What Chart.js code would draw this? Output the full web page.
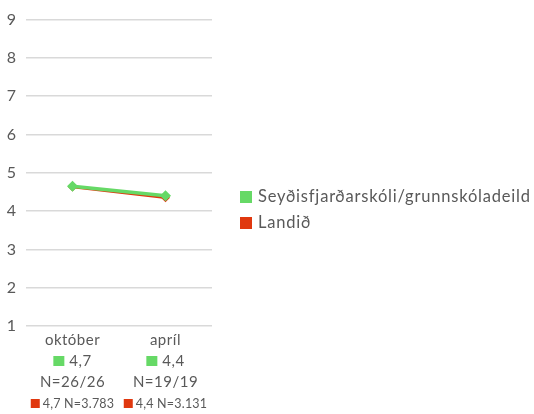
<!DOCTYPE html>
<html>
<head>
<meta charset="utf-8">
<script src="https://cdn.jsdelivr.net/npm/chart.js@4/dist/chart.umd.min.js"></script>
<style>
  html, body { margin: 0; padding: 0; background: #fff; }
  #wrap { width: 534px; height: 414px; }
</style>
</head>
<body>
<div id="wrap"><canvas id="chart"></canvas></div>
<script>
// chart data
const months = ['október', 'apríl'];
const seriesNames = ['Seyðisfjarðarskóli/grunnskóladeild', 'Landið'];
const schoolValues = [4.65, 4.40];
const nationValues = [4.63, 4.35];
const schoolAvgLabels = ['4,7', '4,4'];
const schoolCountLabels = ['N=26/26', 'N=19/19'];
const nationLabels = ['4,7 N=3.783', '4,4 N=3.131'];
const yTicks = [1, 2, 3, 4, 5, 6, 7, 8, 9];

const GREEN = '#66d966';
const RED = '#e0380f';
const TEXT = '#595959';
const FONT = 'Lato, "Open Sans", sans-serif';

// draws the multi-line category labels and the side legend
const extrasPlugin = {
    id: 'extras',
    afterDraw(chart) {
        const ctx = chart.ctx;
        const x = chart.scales.x;
        ctx.save();
        ctx.textBaseline = 'middle';
        months.forEach((m, i) => {
            const cx = x.getPixelForValue(i);

            ctx.fillStyle = TEXT;
            ctx.font = '15px ' + FONT;
            ctx.letterSpacing = '0.5px';
            ctx.textAlign = 'center';
            ctx.fillText(m, cx, 340);

            // green square + school average
            ctx.textAlign = 'left';
            let tw = ctx.measureText(schoolAvgLabels[i]).width;
            let total = 11 + 5 + tw;
            let sx = cx - total / 2;
            ctx.fillStyle = GREEN;
            ctx.fillRect(sx, 356, 11, 10);
            ctx.fillStyle = TEXT;
            ctx.fillText(schoolAvgLabels[i], sx + 16, 361);

            ctx.textAlign = 'center';
            ctx.fillText(schoolCountLabels[i], cx, 382);

            // red square + national numbers
            ctx.font = '12.5px ' + FONT;
            ctx.letterSpacing = '0.2px';
            ctx.textAlign = 'left';
            tw = ctx.measureText(nationLabels[i]).width;
            total = 9 + 3 + tw;
            sx = cx - total / 2;
            ctx.fillStyle = RED;
            ctx.fillRect(sx, 399, 9, 9);
            ctx.fillStyle = TEXT;
            ctx.fillText(nationLabels[i], sx + 12, 404);
        });

        // legend
        const colors = [GREEN, RED];
        ctx.font = '16.5px ' + FONT;
        ctx.letterSpacing = '0.8px';
        ctx.textAlign = 'left';
        seriesNames.forEach((name, i) => {
            const y = 197 + i * 26;
            ctx.fillStyle = colors[i];
            ctx.fillRect(240, y - 6, 12, 12);
            ctx.fillStyle = TEXT;
            ctx.fillText(name, 258, y);
        });
        ctx.restore();
    }
};

new Chart(document.getElementById('chart'), {
    type: 'line',
    data: {
        labels: months,
        datasets: [
            {
                label: seriesNames[0],
                data: schoolValues,
                borderColor: GREEN,
                backgroundColor: GREEN,
                borderWidth: 3.5,
                pointStyle: 'rectRot',
                pointRadius: 5.5,
                pointBorderWidth: 0,
                order: 0
            },
            {
                label: seriesNames[1],
                data: nationValues,
                borderColor: RED,
                backgroundColor: RED,
                borderWidth: 2.5,
                pointStyle: 'rectRot',
                pointRadius: 4.5,
                pointBorderWidth: 0,
                order: 1
            }
        ]
    },
    options: {
        responsive: true,
        maintainAspectRatio: false,
        animation: false,
        layout: { padding: { top: 10, right: 322, bottom: 88, left: 0 } },
        plugins: {
            legend: { display: false },
            tooltip: { enabled: false }
        },
        scales: {
            x: {
                offset: true,
                grid: { display: false, drawTicks: false },
                border: { display: false },
                ticks: { display: false }
            },
            y: {
                min: 1,
                max: 9,
                afterBuildTicks: axis => {
                    axis.ticks = yTicks.map(v => ({ value: v }));
                },
                afterFit: axis => { axis.width = 26; },
                grid: { color: '#d9d9d9', lineWidth: 1.5, drawTicks: false },
                border: { display: false },
                ticks: {
                    color: TEXT,
                    font: { family: FONT, size: 16 },
                    padding: 10
                }
            }
        }
    },
    plugins: [extrasPlugin]
});
</script>
</body>
</html>
